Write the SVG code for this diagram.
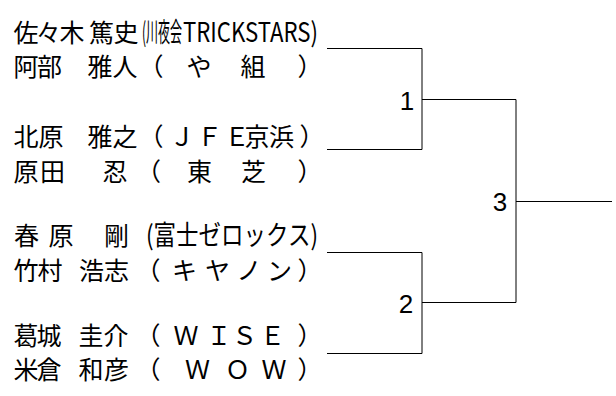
<svg xmlns="http://www.w3.org/2000/svg" width="616" height="396" viewBox="0 0 616 396">
<style>
.name{font-family:"Noto Sans CJK JP","Noto Sans CJK SC",sans-serif;font-size:25px;fill:#000;text-anchor:middle}
.cond{text-anchor:start;font-size:27px}
.num{font-family:"Liberation Sans",Arial,sans-serif;font-size:26px;fill:#000;text-anchor:middle}
.line{fill:none;stroke:#000;stroke-width:1}
</style>
<rect width="616" height="396" fill="#fff"/>
<g id="player1"><text class="name" y="42" x="26 48.5 72 86 101.5 126">佐々木 篤史</text><text class="name cond" transform="translate(142 42) scale(0.445 1)">(川夜会</text><text class="name cond" x="183" y="42" textLength="135" lengthAdjust="spacingAndGlyphs">TRICKSTARS)</text></g>
<g id="player2"><text class="name" y="76" x="26 49.5 75 100 125 151 175 199 226 253 280 310">阿部 雅人（ や 組 ）</text></g>
<g id="player3"><text class="name" y="146" x="26 51 75 100 125 151 182 209.5 237 257 281.5 312">北原 雅之（ＪＦＥ京浜）</text></g>
<g id="player4"><text class="name" y="181" x="26 52.5 80 115 148.5 175 199.5 226 253.5 280 310">原田　忍（ 東 芝 ）</text></g>
<g id="player5"><text class="name" y="245" x="26.5 61 88 116.5">春原　剛</text><text class="name cond" x="146" y="245" textLength="172" lengthAdjust="spacingAndGlyphs">(富士ゼロックス)</text></g>
<g id="player6"><text class="name" y="280" x="26 50 70 91.5 116.5 148 184.5 217.5 249 279.5 310">竹村 浩志（キヤノン）</text></g>
<g id="player7"><text class="name" y="345" x="26 49 70 91 116 148 186 219 244.5 272.5 310">葛城 圭介（ＷＩＳＥ）</text></g>
<g id="player8"><text class="name" y="379" x="26 49 70 91 116.5 148 197.5 237.5 274 310">米倉 和彦（ＷＯＷ）</text></g>
<g id="connectors">
<path class="line" d="M327 48.5H422V149.5H327"/>
<path class="line" d="M327 252.5H422V353.5H327"/>
<path class="line" d="M422 99.5H516V302.5H422"/>
<path class="line" d="M516 201.5H612"/>
</g>
<g id="match1"><text class="num" x="407" y="109.5">1</text></g>
<g id="match2"><text class="num" x="406" y="312.5">2</text></g>
<g id="match3"><text class="num" x="500" y="211">3</text></g>
</svg>
